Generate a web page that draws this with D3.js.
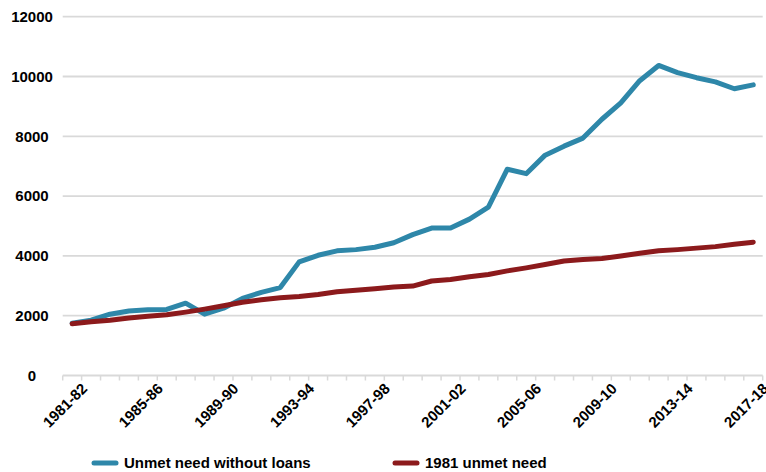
<!DOCTYPE html>
<html>
<head>
<meta charset="utf-8">
<script src="https://cdn.jsdelivr.net/npm/d3@7"></script>
<style>
  html, body { margin: 0; padding: 0; background: #fff; }
  svg { display: block; }
  text { font-family: "Liberation Sans", Arial, sans-serif; font-weight: bold; fill: #000; }
</style>
</head>
<body>
<svg id="chart" width="766" height="472"></svg>
<script>
// School years on the category axis
const categories = [
  "1981-82", "1982-83", "1983-84", "1984-85", "1985-86", "1986-87", "1987-88", "1988-89",
  "1989-90", "1990-91", "1991-92", "1992-93", "1993-94", "1994-95", "1995-96", "1996-97",
  "1997-98", "1998-99", "1999-00", "2000-01", "2001-02", "2002-03", "2003-04", "2004-05",
  "2005-06", "2006-07", "2007-08", "2008-09", "2009-10", "2010-11", "2011-12", "2012-13",
  "2013-14", "2014-15", "2015-16", "2016-17", "2017-18"
];

// Unmet need without loans
const unmetNeedWithoutLoans = [
  1750, 1850, 2050, 2160, 2200, 2210, 2420, 2050, 2250, 2580, 2780, 2940, 3800, 4020, 4170, 4210,
  4290, 4440, 4710, 4930, 4930, 5230, 5630, 6900, 6750, 7370, 7670, 7940, 8570, 9120, 9860, 10370,
  10130, 9960, 9820, 9590, 9720
];

// 1981 unmet need
const unmetNeed1981 = [
  1730, 1800, 1850, 1920, 1980, 2030, 2120, 2220, 2330, 2450, 2530, 2600, 2640, 2710, 2800, 2850,
  2900, 2960, 2990, 3160, 3210, 3300, 3380, 3500, 3600, 3710, 3830, 3880, 3910, 4000, 4090, 4170,
  4210, 4260, 4310, 4390, 4460
];

const yTicks = [0, 2000, 4000, 6000, 8000, 10000, 12000];
const xTickLabels = ["1981-82", "1985-86", "1989-90", "1993-94", "1997-98", "2001-02",
                     "2005-06", "2009-10", "2013-14", "2017-18"];

const series = [
  { name: "Unmet need without loans", values: unmetNeedWithoutLoans, color: "#2E87A9" },
  { name: "1981 unmet need", values: unmetNeed1981, color: "#8C1A1C" }
];

const svg = d3.select("#chart");
const plot = { left: 62.7, right: 762.7, top: 16.7, bottom: 375.5 };

const x = d3.scaleBand().domain(categories).range([plot.left, plot.right]).padding(0);
const cx = c => x(c) + x.bandwidth() / 2;
const y = d3.scaleLinear().domain([0, 12000]).range([plot.bottom, plot.top]);

const gridColor = "#D9D9D9";

// Horizontal gridlines
svg.append("g")
  .selectAll("line")
  .data(yTicks.filter(t => t > 0))
  .join("line")
  .attr("x1", plot.left).attr("x2", plot.right)
  .attr("y1", d => y(d)).attr("y2", d => y(d))
  .attr("stroke", gridColor).attr("stroke-width", 1.8);

// Y axis labels
svg.append("g")
  .selectAll("text")
  .data(yTicks)
  .join("text")
  .attr("x", 32)
  .attr("y", d => y(d))
  .attr("dy", "0.35em")
  .attr("text-anchor", "middle")
  .style("font-size", "15px")
  .text(d => d);

// X axis: line plus tick marks on category boundaries
const xAxis = svg.append("g");
xAxis.append("line")
  .attr("x1", plot.left).attr("x2", plot.right)
  .attr("y1", plot.bottom).attr("y2", plot.bottom)
  .attr("stroke", gridColor).attr("stroke-width", 1.8);
const boundaries = categories.map(c => x(c)).concat([x(categories[categories.length - 1]) + x.bandwidth()]);
xAxis.selectAll("line.tick")
  .data(boundaries)
  .join("line")
  .attr("class", "tick")
  .attr("x1", d => d).attr("x2", d => d)
  .attr("y1", plot.bottom).attr("y2", plot.bottom + 5)
  .attr("stroke", gridColor).attr("stroke-width", 1.5);

// Rotated category labels
xAxis.selectAll("text")
  .data(xTickLabels)
  .join("text")
  .attr("text-anchor", "end")
  .attr("transform", d => `translate(${cx(d) + 16},${plot.bottom + 14}) rotate(-45)`)
  .style("font-size", "15px")
  .text(d => d);

// Series lines
const line = d3.line()
  .x((v, i) => cx(categories[i]))
  .y(v => y(v));

svg.append("g")
  .selectAll("path")
  .data(series)
  .join("path")
  .attr("d", s => line(s.values))
  .attr("fill", "none")
  .attr("stroke", s => s.color)
  .attr("stroke-width", 5)
  .attr("stroke-linejoin", "round")
  .attr("stroke-linecap", "round");

// Legend
const legendItems = [
  { s: series[0], x: 92 },
  { s: series[1], x: 393 }
];
const legend = svg.append("g");
const legendY = 463;
legendItems.forEach(item => {
  legend.append("line")
    .attr("x1", item.x + 2).attr("x2", item.x + 24)
    .attr("y1", legendY).attr("y2", legendY)
    .attr("stroke", item.s.color)
    .attr("stroke-width", 5)
    .attr("stroke-linecap", "round");
  legend.append("text")
    .attr("x", item.x + 32)
    .attr("y", legendY)
    .attr("dy", "0.35em")
    .style("font-size", "15px")
    .text(item.s.name);
});
</script>
</body>
</html>
